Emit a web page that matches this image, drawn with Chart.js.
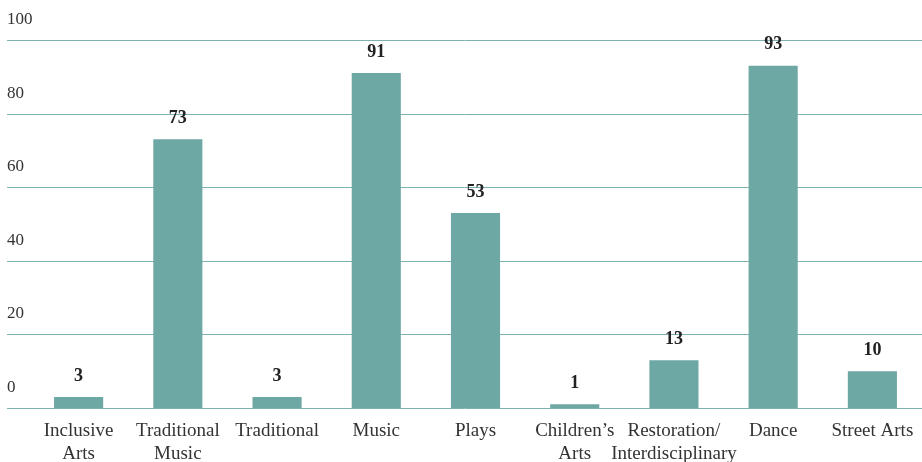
<!DOCTYPE html>
<html>
<head>
<meta charset="utf-8">
<script src="https://cdn.jsdelivr.net/npm/chart.js@4"></script>
<style>
  body { margin: 0; background: #fff; }
  #artsChart { display: block; }
</style>
</head>
<body>
<canvas id="artsChart" width="922" height="462"></canvas>
<script>
const categories = [
    ['Inclusive', 'Arts'],
    ['Traditional', 'Music'],
    'Traditional',
    'Music',
    'Plays',
    ['Children\u2019s', 'Arts'],
    ['Restoration/', 'Interdisciplinary'],
    'Dance',
    'Street Arts'
];
const counts = [3, 73, 3, 91, 53, 1, 13, 93, 10];
const yTicks = [0, 20, 40, 60, 80, 100];

const serif = '"Liberation Serif", "DejaVu Serif", serif';

// grid lines + y labels drawn from the y scale, so they can run left of the chart area
const gridPlugin = {
    id: 'gridLines',
    beforeDatasetsDraw(chart) {
        const ctx = chart.ctx;
        const yScale = chart.scales.y;
        const right = chart.chartArea.right;
        ctx.save();
        ctx.strokeStyle = '#7db2af';
        ctx.lineWidth = 1;
        ctx.fillStyle = '#333';
        ctx.font = '17px ' + serif;
        ctx.textAlign = 'left';
        ctx.textBaseline = 'middle';
        for (let i = 0; i < yTicks.length; ++i) {
            const y = Math.round(yScale.getPixelForValue(yTicks[i])) + 0.5;
            ctx.beginPath();
            ctx.moveTo(7, y);
            ctx.lineTo(right, y);
            ctx.stroke();
            ctx.fillText(String(yTicks[i]), 7, y - 21);
        }
        ctx.restore();
    }
};

const valuePlugin = {
    id: 'valueLabels',
    afterDatasetsDraw(chart) {
        const ctx = chart.ctx;
        const meta = chart.getDatasetMeta(0);
        ctx.save();
        ctx.fillStyle = '#222';
        ctx.font = 'bold 18px ' + serif;
        ctx.textAlign = 'center';
        ctx.textBaseline = 'middle';
        meta.data.forEach((bar, i) => {
            ctx.fillText(String(counts[i]), bar.x, bar.y - 21);
        });
        ctx.restore();
    }
};

const data = {
    labels: categories,
    datasets: [{
        label: 'Count',
        data: counts,
        backgroundColor: '#6da8a5',
        borderWidth: 0,
        barPercentage: 0.495,
        categoryPercentage: 1
    }]
};

const config = {
    type: 'bar',
    data,
    options: {
        responsive: false,
        animation: false,
        layout: {
            autoPadding: false,
            padding: { left: 29, top: 40, right: 0, bottom: 0 }
        },
        plugins: {
            legend: { display: false },
            tooltip: { enabled: false }
        },
        scales: {
            x: {
                grid: { display: false, drawTicks: false },
                border: { display: false },
                ticks: {
                    color: '#333',
                    padding: 12,
                    maxRotation: 0,
                    autoSkip: false,
                    font: { family: serif, size: 19, lineHeight: 1.2 }
                },
                afterFit(scale) {
                    scale.height = 54;
                    scale.paddingLeft = 0;
                    scale.paddingRight = 0;
                }
            },
            y: {
                display: false,
                min: 0,
                max: 100
            }
        }
    },
    plugins: [gridPlugin, valuePlugin]
};

const Chart1 = new Chart(
    document.getElementById('artsChart'),
    config
);
</script>
</body>
</html>
